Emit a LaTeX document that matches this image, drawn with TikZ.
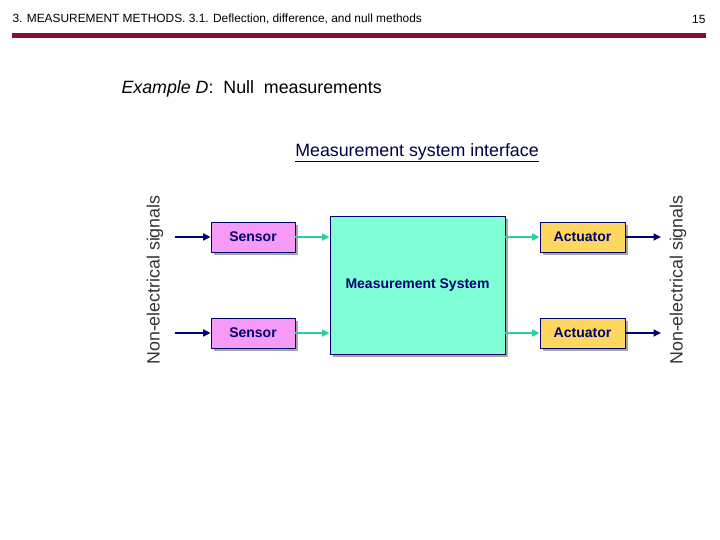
\documentclass[tikz,border=0pt]{standalone}
\usepackage{fontspec}
\setmainfont{Liberation Sans}
\usetikzlibrary{arrows.meta, shadows}
\definecolor{barmaroon}{RGB}{140,10,60}
\definecolor{labnavy}{RGB}{0,0,110}
\definecolor{senspink}{RGB}{245,155,245}
\definecolor{msaqua}{RGB}{128,255,215}
\definecolor{actgold}{RGB}{255,215,95}
\definecolor{sigteal}{RGB}{45,205,160}
\tikzset{
  >={Triangle[length=2.6mm, width=2.4mm]},
  sigwire/.style ={line width=2pt, labnavy},
  elwire/.style  ={line width=2.2pt, sigteal},
  block/.style   ={rectangle, draw=labnavy, line width=0.8pt, text=labnavy,
                   font=\bfseries\fontsize{14}{16}\selectfont,
                   drop shadow={shadow xshift=3pt, shadow yshift=-3pt, opacity=1, fill=gray!70}},
  sensbox/.style ={block, fill=senspink, minimum width=84pt, minimum height=30pt},
  actbox/.style  ={block, fill=actgold, minimum width=85pt, minimum height=30pt},
  sidelabel/.style={rotate=90, text=black!80, font=\fontsize{17.8}{20}\selectfont},
}
\begin{document}
\begin{tikzpicture}[x=1pt, y=-1pt]
  \useasboundingbox (0,0) rectangle (720,540);
  % --- slide header ---------------------------------------------------------
  \node[anchor=west, font=\fontsize{11.9}{14}\selectfont] (head) at (9,19)
    {3. MEASUREMENT METHODS. 3.1. Deflection, difference, and null methods};
  \node[anchor=east, font=\fontsize{11.9}{14}\selectfont] (pageno) at (709,19) {15};
  \fill[barmaroon] (12,33) rectangle (706,38);
  \node[anchor=west, font=\fontsize{17.8}{20}\selectfont] (title) at (118,89)
    {\textit{Example D}: \ Null \ measurements};
  \node[font=\fontsize{17.8}{20}\selectfont, text=labnavy!60!black] (iface) at (417,153)
    {\underline{Measurement system interface}};

  % --- blocks ---------------------------------------------------------------
  \node[sensbox] (sen1) at (253,237) {Sensor};
  \node[sensbox] (sen2) at (253,333) {Sensor};
  \node[block, fill=msaqua, minimum width=175pt, minimum height=138pt] (ms) at (417.5,285)
    {Measurement System};
  \node[actbox]  (act1) at (582.5,237) {Actuator};
  \node[actbox]  (act2) at (582.5,333) {Actuator};

  \node[sidelabel] (nesin)  at (155,280) {Non-electrical signals};
  \node[sidelabel] (nesout) at (678,280) {Non-electrical signals};

  \coordinate (in1)  at (175,237);
  \coordinate (in2)  at (175,333);
  \coordinate (out1) at (661,237);
  \coordinate (out2) at (661,333);

  % --- connectors -----------------------------------------------------------
  \draw[sigwire,->] (in1) -- (sen1.west);
  \draw[sigwire,->] (in2) -- (sen2.west);
  \draw[elwire,->] (sen1.east) -- (sen1.east -| ms.west);
  \draw[elwire,->] (sen2.east) -- (sen2.east -| ms.west);
  \draw[elwire,->] (act1.west -| ms.east) -- (act1.west);
  \draw[elwire,->] (act2.west -| ms.east) -- (act2.west);
  \draw[sigwire,->] (act1.east) -- (out1);
  \draw[sigwire,->] (act2.east) -- (out2);
\end{tikzpicture}
\end{document}
